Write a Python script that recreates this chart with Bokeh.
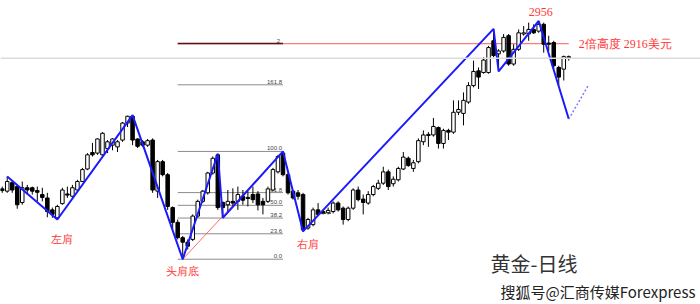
from bokeh.plotting import figure
from bokeh.models import Range1d, Label, Span, ColumnDataSource
from bokeh.embed import file_html
from bokeh.resources import INLINE

# ---- daily gold candles (O, H, L, C) ----
opens = [2660, 2656, 2671, 2664, 2636, 2662, 2662, 2657, 2650, 2644,
         2623, 2609, 2634, 2651, 2647, 2658, 2673, 2695, 2724, 2723,
         2720, 2731, 2737, 2734, 2746, 2776, 2788, 2748, 2743, 2737,
         2746, 2656, 2708, 2685, 2627, 2601, 2574, 2566, 2571, 2612,
         2638, 2653, 2688, 2720, 2636, 2632, 2638, 2638, 2647, 2645,
         2650, 2651, 2638, 2638, 2658, 2690, 2723, 2685, 2656, 2653,
         2650, 2591, 2597, 2623, 2620, 2618, 2620, 2635, 2626, 2606,
         2626, 2658, 2642, 2635, 2650, 2661, 2670, 2690, 2669, 2676,
         2695, 2714, 2696, 2708, 2743, 2754, 2755, 2768, 2740, 2763,
         2760, 2795, 2793, 2813, 2842, 2868, 2865, 2865, 2921, 2898,
         2903, 2930, 2880, 2906, 2933, 2933, 2941, 2938, 2950, 2917,
         2918, 2874, 2871, 2891]
highs = [2664, 2682, 2674, 2667, 2673, 2667, 2664, 2664, 2662, 2653,
         2627, 2632, 2662, 2664, 2667, 2676, 2697, 2723, 2741, 2749,
         2760, 2746, 2749, 2746, 2778, 2789, 2790, 2749, 2746, 2748,
         2749, 2711, 2711, 2688, 2629, 2606, 2577, 2571, 2615, 2641,
         2658, 2690, 2717, 2722, 2638, 2658, 2661, 2664, 2658, 2656,
         2664, 2656, 2644, 2664, 2697, 2720, 2726, 2688, 2658, 2658,
         2653, 2609, 2627, 2635, 2623, 2627, 2638, 2638, 2629, 2629,
         2661, 2664, 2650, 2656, 2667, 2676, 2699, 2694, 2682, 2699,
         2725, 2717, 2711, 2749, 2763, 2760, 2785, 2770, 2766, 2766,
         2816, 2816, 2830, 2848, 2886, 2874, 2892, 2912, 2942, 2906,
         2933, 2933, 2915, 2941, 2947, 2953, 2950, 2956, 2953, 2930,
         2921, 2877, 2895, 2895]
lows = [2653, 2653, 2653, 2625, 2632, 2650, 2650, 2638, 2638, 2610,
        2609, 2606, 2632, 2644, 2644, 2656, 2672, 2693, 2717, 2720,
        2717, 2723, 2728, 2725, 2743, 2769, 2737, 2732, 2734, 2734,
        2653, 2644, 2682, 2623, 2588, 2571, 2536, 2553, 2568, 2609,
        2635, 2650, 2685, 2623, 2609, 2620, 2629, 2623, 2632, 2629,
        2635, 2622, 2615, 2635, 2656, 2687, 2682, 2650, 2641, 2641,
        2585, 2588, 2594, 2612, 2615, 2615, 2617, 2620, 2597, 2603,
        2623, 2638, 2615, 2632, 2647, 2658, 2667, 2658, 2664, 2673,
        2693, 2699, 2690, 2705, 2737, 2734, 2752, 2731, 2731, 2746,
        2757, 2790, 2772, 2810, 2839, 2836, 2863, 2863, 2892, 2867,
        2900, 2877, 2877, 2903, 2930, 2921, 2933, 2935, 2900, 2903,
        2871, 2842, 2851, 2886]
closes = [2657, 2673, 2658, 2632, 2662, 2658, 2656, 2654, 2645, 2620,
          2615, 2629, 2658, 2649, 2662, 2673, 2694, 2720, 2720, 2748,
          2758, 2743, 2748, 2743, 2776, 2788, 2746, 2735, 2737, 2745,
          2658, 2708, 2685, 2629, 2601, 2574, 2566, 2559, 2612, 2638,
          2656, 2688, 2714, 2627, 2627, 2638, 2635, 2650, 2640, 2643,
          2641, 2632, 2632, 2660, 2694, 2717, 2685, 2653, 2644, 2647,
          2588, 2606, 2623, 2615, 2617, 2622, 2635, 2623, 2606, 2626,
          2658, 2641, 2636, 2650, 2664, 2670, 2690, 2664, 2677, 2696,
          2716, 2701, 2706, 2745, 2755, 2756, 2770, 2740, 2763, 2760,
          2795, 2800, 2816, 2842, 2867, 2857, 2887, 2909, 2895, 2903,
          2927, 2880, 2906, 2935, 2935, 2941, 2935, 2950, 2915, 2915,
          2877, 2857, 2893, 2893]

# ---- zigzag indicator (bar index, price) ----
zz_idx = [1, 11, 26, 36, 43, 44, 56, 60, 98, 99, 107, 113]
zz_price = [2682, 2606, 2790, 2536, 2722, 2609, 2726, 2585, 2942, 2867, 2956, 2783]
proj_idx = [113, 117]
proj_price = [2783, 2844]

# ---- Fibonacci tool ----
fib_low, fib_high = 2536, 2726
fib_idx0, fib_idx1 = 35, 56
fib_ratios = [0.0, 0.236, 0.382, 0.5, 0.618, 1.0, 1.618]
fib_labels = ["0.0", "23.6", "38.2", "50.0", "61.8", "100.0", "161.8"]
fib2_ratio, fib2_label = 2.0, "2"

target_price = 2916
target_end_idx = 113
current_price = 2890
top_price = 2956
top_idx = 107
bid_price = 2617
bid_idx = [63, 66]

shoulder_text = ["左肩", "头肩底", "右肩"]
shoulder_idx = [12, 36, 61]
shoulder_price = [2571, 2516, 2562]

n = len(opens)
idx = list(range(n))
RED = "#ff3535"

p = figure(width=700, height=304, output_backend="svg", toolbar_location=None,
           x_range=Range1d(-0.34, 139.27), y_range=Range1d(2456.2, 2992),
           x_axis_type=None, y_axis_type=None, min_border=0,
           background_fill_color="white", border_fill_color="white")
p.grid.visible = False
p.outline_line_color = None

# current price line
p.add_layout(Span(location=current_price, dimension="width",
                  line_color="#dcdcdc", line_width=1.5))

# fib levels
rng = fib_high - fib_low
lv = [fib_low + r * rng for r in fib_ratios]
p.segment(x0=[fib_idx0] * len(lv), x1=[fib_idx1] * len(lv), y0=lv, y1=lv,
          line_color="#8c8c8c", line_width=1)
p.text(x=[fib_idx1 - 0.2] * len(lv), y=lv, text=fib_labels, text_align="right",
       text_baseline="bottom", text_font_size="6px", text_color="#444444",
       y_offset=-1)

# 2x target line
p.segment(x0=[fib_idx0], x1=[target_end_idx], y0=[target_price], y1=[target_price],
          line_color="#ff7a7a", line_width=1.3)
lv2 = fib_low + fib2_ratio * rng
p.segment(x0=[fib_idx0], x1=[fib_idx1], y0=[lv2], y1=[lv2],
          line_color="#5a1010", line_width=1.5)
p.text(x=[fib_idx1 - 0.6], y=[lv2], text=[fib2_label], text_align="right",
       text_baseline="bottom", text_font_size="6px", text_color="#444444", y_offset=-1)

# red diagonal fib baseline
p.line([fib_idx0 + 1, fib_idx1], [fib_low, fib_high], line_color="#ff6b6b", line_width=1)

# candles
inc = [c >= o for o, c in zip(opens, closes)]
body_top, body_bot = [], []
for o, c in zip(opens, closes):
    t, b = max(o, c), min(o, c)
    if t - b < 1.3:
        m = (t + b) / 2
        t, b = m + 0.65, m - 0.65
    body_top.append(t)
    body_bot.append(b)

src = ColumnDataSource(dict(x=idx, h=highs, l=lows, t=body_top, b=body_bot,
                            fill=["white" if i else "black" for i in inc]))
p.segment(x0="x", x1="x", y0="h", y1="l", source=src, line_color="black", line_width=1)
p.vbar(x="x", top="t", bottom="b", width=0.7, source=src, fill_color="fill",
       line_color="black", line_width=1)

# bid dashed
p.line(bid_idx, [bid_price, bid_price], line_color="#333333", line_dash="3 2", line_width=1)

# zigzag
p.line(zz_idx, zz_price, line_color="#1a1aff", line_width=2)
p.line(proj_idx, proj_price, line_color="#7a7aff", line_width=1.5, line_dash="2 2")

# labels
p.text(x=[top_idx + 0.4], y=[top_price + 9], text=[str(top_price)], text_align="center",
       text_baseline="bottom", text_font_size="12px", text_color=RED,
       text_font="Liberation Sans")
p.text(x=[target_end_idx + 2], y=[target_price], text=["2倍高度  %d美元" % target_price],
       text_align="left", text_baseline="middle", text_font_size="12px",
       text_color=RED, text_font="Noto Sans CJK SC")
p.text(x=shoulder_idx, y=shoulder_price, text=shoulder_text, text_align="center",
       text_baseline="middle", text_font_size="11px", text_color=RED,
       text_font="Noto Sans CJK SC")

p.add_layout(Label(x=490, y=41, x_units="screen", y_units="screen", text="黄金-日线",
                   text_font_size="20px", text_color="#333333", text_baseline="middle",
                   text_font="Noto Sans CJK SC"))
p.add_layout(Label(x=500, y=13, x_units="screen", y_units="screen",
                   text="搜狐号@汇商传媒Forexpress", text_font_size="15px",
                   text_color="#222222", text_baseline="middle",
                   text_font="Noto Sans CJK SC"))

open("out.html", "w").write(file_html(p, INLINE))
